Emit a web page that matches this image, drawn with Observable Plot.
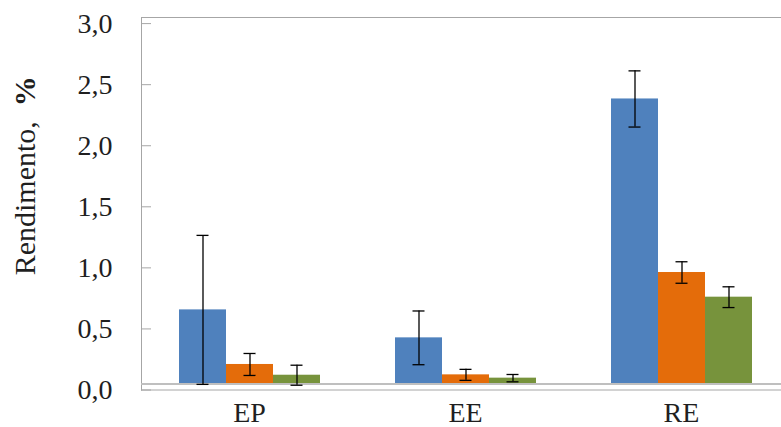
<!DOCTYPE html>
<html><head><meta charset="utf-8">
<script src="https://cdn.jsdelivr.net/npm/d3@7"></script>
<script src="https://cdn.jsdelivr.net/npm/@observablehq/plot@0.6"></script>
<style>html,body{margin:0;padding:0;overflow:hidden;background:#fff}
#chart svg{max-width:none !important;height:427px !important;width:790px !important}</style>
</head><body><div id="chart"></div>
<script>
const categories = ["EP", "EE", "RE"];
const series = ["Série 1", "Série 2", "Série 3"];
const colors = ["#4F81BD", "#E46C0A", "#77933C"];
const valuesS1 = [0.656, 0.427, 2.383];
const valuesS2 = [0.209, 0.124, 0.962];
const valuesS3 = [0.121, 0.097, 0.760];
const errS1 = [0.61, 0.22, 0.23];
const errS2 = [0.09, 0.045, 0.088];
const errS3 = [0.082, 0.03, 0.085];
const yTicks = [0, 0.5, 1, 1.5, 2, 2.5, 3];
const baseline = 0.05;
const yTop = 3.05;
const yLabel = "Rendimento,\u00a0 %";

const valueSets = [valuesS1, valuesS2, valuesS3];
const errSets = [errS1, errS2, errS3];
const data = [];
categories.forEach((c, i) => series.forEach((s, j) => {
  data.push({cat: c, series: s, value: valueSets[j][i], err: errSets[j][i]});
}));
const fmt = d => d.toFixed(1).replace(".", ",");
const gray = "#A6A6A6";

const chart = Plot.plot({
  width: 790, height: 427,
  marginLeft: 140, marginRight: 0, marginTop: 17, marginBottom: 37.5,
  style: {fontFamily: "'Liberation Serif', 'Times New Roman', serif", fontSize: "28px", color: "#1f1f1f", background: "#fff", maxWidth: "none"},
  fx: {domain: categories, paddingInner: 0, paddingOuter: 0, label: null},
  x: {domain: series, paddingInner: 0, paddingOuter: 0.757, axis: null},
  y: {domain: [0, yTop], axis: null},
  color: {domain: series, range: colors},
  marks: [
    Plot.ruleY([yTop, 0], {stroke: gray}),
    Plot.frame({anchor: "left", facetAnchor: "left", stroke: gray}),
    Plot.axisY(yTicks, {tickSize: -10, tickPadding: 39, tickFormat: fmt, stroke: gray, fill: "#1f1f1f", label: null}),
    Plot.barY(data, {fx: "cat", x: "series", y1: baseline, y2: "value", fill: "series"}),
    Plot.ruleY([baseline], {stroke: "#BFBFBF", strokeWidth: 2}),
    Plot.ruleX(data, {fx: "cat", x: "series", y1: d => d.value - d.err, y2: d => d.value + d.err, stroke: "#000", strokeWidth: 1.3}),
    Plot.tickY(data, {fx: "cat", x: "series", y: d => d.value + d.err, insetLeft: 17.5, insetRight: 17.5, stroke: "#000", strokeWidth: 1.3}),
    Plot.tickY(data, {fx: "cat", x: "series", y: d => d.value - d.err, insetLeft: 17.5, insetRight: 17.5, stroke: "#000", strokeWidth: 1.3}),
    Plot.axisFx({anchor: "bottom", tickSize: 0, tickPadding: 12, label: null}),
    Plot.text([yLabel], {facet: "super", text: d => d, frameAnchor: "left", textAnchor: "middle", rotate: -90, dx: -116, dy: -28, fontSize: 30, fill: "#1f1f1f"})
  ]
});
document.getElementById("chart").appendChild(chart);
d3.select(chart).selectAll("text").filter(function() { return this.textContent === yLabel; }).each(function() {
  const t = d3.select(this);
  t.text(null);
  t.append("tspan").text("Rendimento,\u00a0 ");
  t.append("tspan").attr("font-weight", "bold").text("%");
});
</script>
</body></html>
